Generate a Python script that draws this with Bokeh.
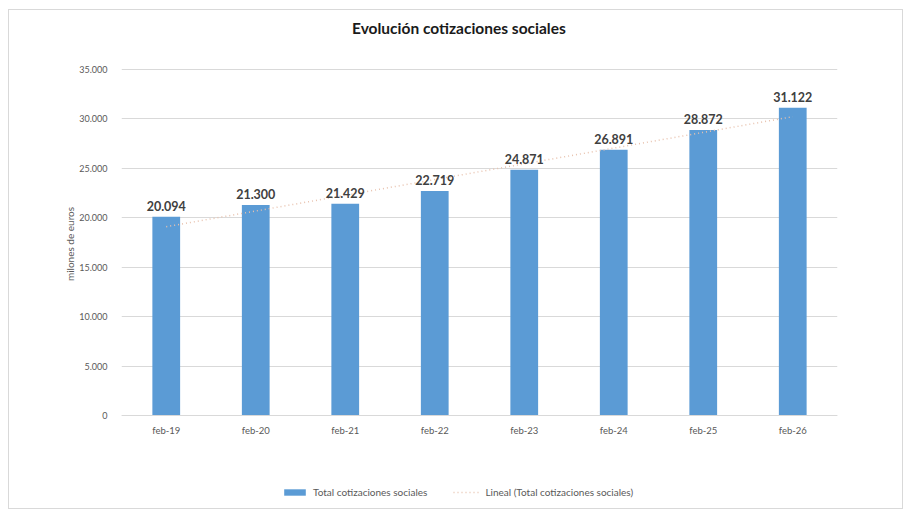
import numpy as np
from bokeh.plotting import figure
from bokeh.models import ColumnDataSource, CustomJSTickFormatter, FixedTicker, Legend, LegendItem, Range1d, Label
from bokeh.core.properties import value
from bokeh.embed import file_html
from bokeh.resources import INLINE

categories = ["feb-19", "feb-20", "feb-21", "feb-22", "feb-23", "feb-24", "feb-25", "feb-26"]
values = [20094, 21300, 21429, 22719, 24871, 26891, 28872, 31122]
y_ticks = [0, 5000, 10000, 15000, 20000, 25000, 30000, 35000]
title_text = "Evolución cotizaciones sociales"

FONT = "Lato"
BAR = "#5b9bd5"

def fmt(v):
    return f"{v:,}".replace(",", ".")

idx = np.arange(len(values))
slope, intercept = np.polyfit(idx, values, 1)
trend = list(slope * idx + intercept)

src = ColumnDataSource(dict(cat=categories, val=values, lab=[fmt(v) for v in values], trend=trend))

# frame extended above and below the value range to hold the title, axis labels and legend
p = figure(width=895, height=500, x_range=categories, y_range=Range1d(-9104, 40766),
           output_backend="svg", toolbar_location=None,
           min_border_left=112, min_border_right=67, min_border_top=2, min_border_bottom=5)
p.styles = {"border": "1px solid #d9d9d9", "margin-left": "8px", "margin-top": "9px"}
p.outline_line_color = None

p.add_layout(Label(x=3.77, y=39148, text=title_text, text_align="center", text_baseline="middle",
                   text_font=FONT, text_font_size="15.5px", text_font_style="bold",
                   text_color="#1a1a1a"))

bars = p.vbar(x="cat", top="val", width=0.31, source=src, fill_color=BAR, line_color=None)
tl = p.line(x="cat", y="trend", source=src, line_color="#e8c2ae", line_width=1.5, line_dash="1 3")
p.text(x="cat", y="val", text="lab", source=src, text_align="center", text_baseline="bottom",
       y_offset=-6, text_font=value(FONT), text_font_size="12.5px", text_font_style="bold",
       text_color="#404040")

p.yaxis.ticker = FixedTicker(ticks=y_ticks)
p.yaxis.formatter = CustomJSTickFormatter(code="return Math.round(tick).toString().replace(/\\B(?=(\\d{3})+(?!\\d))/g, '.');")
p.yaxis.axis_line_color = None
p.yaxis.major_tick_line_color = None
p.yaxis.minor_tick_line_color = None
p.yaxis.major_label_text_font = FONT
p.yaxis.major_label_text_font_size = "9px"
p.yaxis.major_label_text_color = "#595959"
p.yaxis.major_label_standoff = 8
p.yaxis.axis_label = "\u2003" * 4 + "milones de euros"
p.yaxis.axis_label_text_font = FONT
p.yaxis.axis_label_text_font_size = "10px"
p.yaxis.axis_label_text_font_style = "normal"
p.yaxis.axis_label_text_color = "#595959"
p.yaxis.axis_label_standoff = 0

p.xaxis.fixed_location = 0
p.xaxis.axis_line_color = "#d9d9d9"
p.xaxis.major_tick_line_color = None
p.xaxis.minor_tick_line_color = None
p.xaxis.major_label_text_font = FONT
p.xaxis.major_label_text_font_size = "9.5px"
p.xaxis.major_label_text_color = "#595959"
p.xaxis.major_label_standoff = 3

p.xgrid.grid_line_color = None
p.ygrid.grid_line_color = "#d9d9d9"
p.ygrid.ticker = FixedTicker(ticks=y_ticks)

legend = Legend(items=[LegendItem(label="Total cotizaciones sociales", renderers=[bars]),
                       LegendItem(label="Lineal (Total cotizaciones sociales)", renderers=[tl])],
                orientation="horizontal", location=(160, 7),
                glyph_width=27, glyph_height=8, label_height=12, spacing=26, padding=5, margin=0,
                label_text_font=FONT, label_text_font_size="10px", label_text_color="#595959",
                border_line_color=None, background_fill_alpha=0)
p.add_layout(legend)

open("out.html", "w").write(file_html(p, INLINE))
